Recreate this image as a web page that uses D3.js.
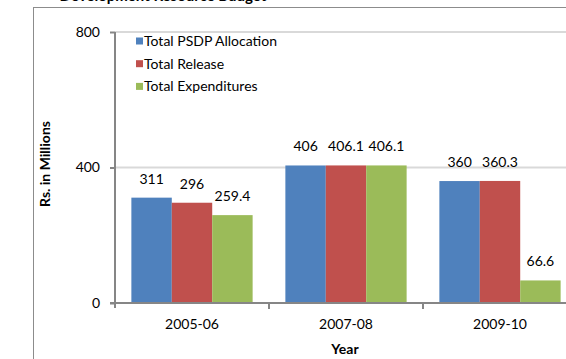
<!DOCTYPE html>
<html>
<head>
<meta charset="utf-8">
<script src="https://cdn.jsdelivr.net/npm/d3@7"></script>
<style>
  html, body { margin: 0; padding: 0; background: #fff; }
  svg { display: block; font-family: Lato, "Open Sans", sans-serif; }
</style>
</head>
<body>
<svg id="chart" width="566" height="359"></svg>
<script>
// Budget figures per fiscal year (Rs. in millions)
const years = ["2005-06", "2007-08", "2009-10"];
const seriesNames = ["Total PSDP Allocation", "Total Release", "Total Expenditures"];
const allocation = [311, 406, 360];
const release = [296, 406.1, 360.3];
const expenditures = [259.4, 406.1, 66.6];
const yTicks = [0, 400, 800];
const colors = ["#4F81BD", "#C0504D", "#9BBB59"];

const seriesValues = [allocation, release, expenditures];
const rows = years.map((yr, i) => ({
  year: yr,
  values: seriesNames.map((s, k) => ({ key: s, k, value: seriesValues[k][i] }))
}));

const svg = d3.select("#chart");

// outer chart frame (runs past the right and bottom edges)
svg.append("rect")
  .attr("x", 33.5).attr("y", 7.5)
  .attr("width", 600).attr("height", 400)
  .attr("fill", "none").attr("stroke", "#8c8c8c").attr("stroke-width", 1);

// chart title, mostly above the top edge
svg.append("text")
  .attr("x", 163).attr("y", 1)
  .attr("text-anchor", "middle")
  .attr("font-weight", "bold").attr("font-size", 15)
  .attr("fill", "#000")
  .text("Development Resource Budget");

const x0 = d3.scaleBand().domain(years).range([115, 577]).paddingInner(0).paddingOuter(0);
const x1 = d3.scaleBand().domain(seriesNames).range([0, x0.bandwidth()])
  .paddingInner(0).paddingOuter(0.405);
const y = d3.scaleLinear().domain([0, 800]).range([303, 32]);

// horizontal gridlines
svg.append("g")
  .selectAll("line")
  .data(yTicks.filter(t => t > 0))
  .join("line")
  .attr("x1", 115).attr("x2", 566)
  .attr("y1", d => y(d)).attr("y2", d => y(d))
  .attr("stroke", "#d9d9d9").attr("stroke-width", 2);

// bars
const groups = svg.append("g")
  .selectAll("g")
  .data(rows)
  .join("g")
  .attr("transform", d => `translate(${x0(d.year)},0)`);

groups.selectAll("rect")
  .data(d => d.values)
  .join("rect")
  .attr("x", d => x1(d.key))
  .attr("y", d => y(d.value))
  .attr("width", x1.bandwidth())
  .attr("height", d => y(0) - y(d.value))
  .attr("fill", d => colors[d.k]);

// value labels
groups.selectAll("text")
  .data(d => d.values)
  .join("text")
  .attr("x", d => x1(d.key) + x1.bandwidth() / 2)
  .attr("y", d => y(d.value) - 14)
  .attr("text-anchor", "middle")
  .attr("font-size", 14)
  .attr("fill", "#000")
  .text(d => d.value);

// y axis
const yAxis = svg.append("g")
  .attr("transform", "translate(115,0)")
  .call(d3.axisLeft(y).tickValues(yTicks).tickSize(5).tickPadding(10));
yAxis.select(".domain").attr("stroke", "#868686").attr("stroke-width", 2)
  .attr("d", `M0,${y(800)}V${y(0) + 5}`);
yAxis.selectAll(".tick line").attr("stroke", "#868686").attr("stroke-width", 2);
yAxis.selectAll(".tick text").attr("font-size", 14).attr("fill", "#000")
  .attr("font-family", "Lato, 'Open Sans', sans-serif");

// x axis
const xAxis = svg.append("g")
  .attr("transform", `translate(0,${y(0)})`)
  .call(d3.axisBottom(x0).tickSize(0).tickPadding(16));
xAxis.select(".domain").attr("stroke", "#868686").attr("stroke-width", 2)
  .attr("d", `M110,0H566`);
xAxis.selectAll(".tick text").attr("font-size", 14).attr("fill", "#000")
  .attr("font-family", "Lato, 'Open Sans', sans-serif");

// category separators below the x axis
svg.append("g")
  .selectAll("line")
  .data(years.slice(1))
  .join("line")
  .attr("x1", d => x0(d)).attr("x2", d => x0(d))
  .attr("y1", y(0)).attr("y2", y(0) + 6)
  .attr("stroke", "#868686").attr("stroke-width", 2);

// axis titles
svg.append("text")
  .attr("x", 345).attr("y", 354)
  .attr("text-anchor", "middle")
  .attr("font-weight", "bold").attr("font-size", 14)
  .text("Year");

svg.append("text")
  .attr("transform", "translate(50,164) rotate(-90)")
  .attr("text-anchor", "middle")
  .attr("font-weight", "bold").attr("font-size", 14)
  .text("Rs. in Millions");

// legend
const legend = svg.append("g")
  .selectAll("g")
  .data(seriesNames)
  .join("g")
  .attr("transform", (d, i) => `translate(136,${41 + i * 22.7})`);
legend.append("rect")
  .attr("x", 0).attr("y", -3.5)
  .attr("width", 7).attr("height", 7)
  .attr("fill", (d, i) => colors[i]);
legend.append("text")
  .attr("x", 8).attr("y", 5)
  .attr("font-size", 14)
  .text(d => d);
</script>
</body>
</html>
